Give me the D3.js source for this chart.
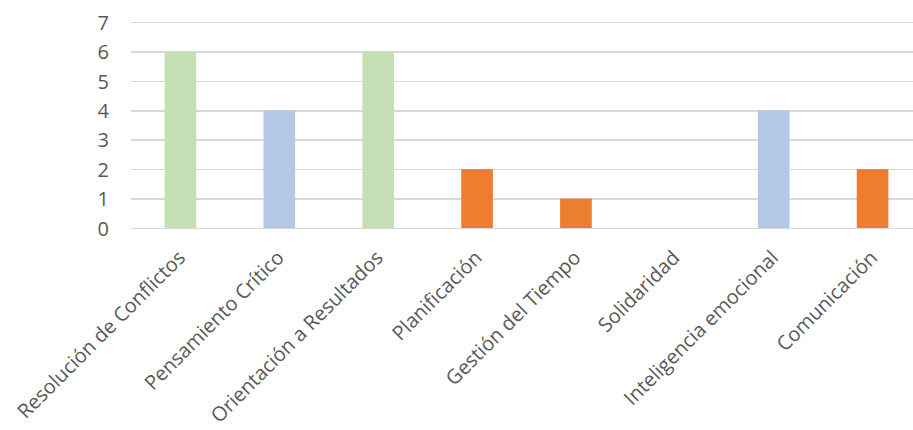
<!DOCTYPE html>
<html>
<head>
  <meta charset="utf-8">
  <style>
    body { margin: 0; background: #fff; }
    .grid line { stroke: #d9d9d9; stroke-width: 1.5; shape-rendering: crispEdges; }
    .grid path { stroke-width: 0; }
    .tick text { font-family: "Open Sans", sans-serif; font-size: 20px; fill: #595959; }
  </style>
</head>
<body>
  <script src="https://cdn.jsdelivr.net/npm/d3@7"></script>
  <script>
    var categories = ["Resolución de Conflictos", "Pensamiento Crítico", "Orientación a Resultados",
                      "Planificación", "Gestión del Tiempo", "Solidaridad",
                      "Inteligencia emocional", "Comunicación"];
    var values = [6, 4, 6, 2, 1, 0, 4, 2];
    var barColors = ["#c5e0b4", "#b4c7e7", "#c5e0b4", "#ed7d31", "#ed7d31", "#ed7d31", "#b4c7e7", "#ed7d31"];
    var yTicks = [0, 1, 2, 3, 4, 5, 6, 7];

    var width = 913, height = 430;
    var plot = {left: 131, right: 922, top: 22, bottom: 228};

    var svg = d3.select("body").append("svg")
        .attr("width", width)
        .attr("height", height);

    var x = d3.scaleBand().domain(categories).range([plot.left, plot.right]).paddingInner(0.68).paddingOuter(0.34),
        y = d3.scaleLinear().domain([0, 7]).range([plot.bottom, plot.top]);

    // gridlines
    svg.append("g")
        .attr("class", "grid")
        .attr("transform", "translate(" + plot.left + ",0)")
        .call(d3.axisLeft(y).tickValues(yTicks).tickSize(-(plot.right - plot.left)).tickFormat(""));

    // y labels
    svg.append("g")
        .attr("transform", "translate(109,0)")
        .call(d3.axisLeft(y).tickValues(yTicks).tickSize(0).tickPadding(0).tickFormat(d3.format("d")))
        .call(function(g) { g.select(".domain").remove(); })
        .selectAll("text").attr("dy", "0.36em");

    svg.selectAll(".bar")
      .data(values)
      .enter().append("rect")
        .attr("class", "bar")
        .attr("x", function(d, i) { return x(categories[i]); })
        .attr("y", function(d) { return y(d); })
        .attr("width", x.bandwidth())
        .attr("height", function(d) { return plot.bottom - y(d); })
        .attr("fill", function(d, i) { return barColors[i]; });

    // x labels
    var xAxis = svg.append("g")
        .attr("transform", "translate(0," + plot.bottom + ")")
        .call(d3.axisBottom(x).tickSize(0).tickPadding(0));
    xAxis.select(".domain").remove();
    xAxis.selectAll("text")
        .attr("text-anchor", "end")
        .attr("dy", 0)
        .attr("transform", "translate(6,31) rotate(-45)");
  </script>
</body>
</html>
